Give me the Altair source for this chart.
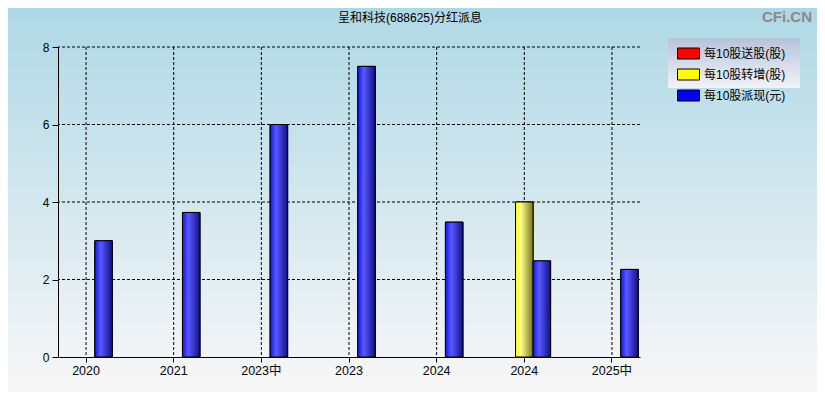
import altair as alt
import pandas as pd

categories = ["2020", "2021", "2023中", "2023", "2024", "2024", "2025中"]
series_names = ["每10股送股(股)", "每10股转增(股)", "每10股派现(元)"]
series_colors = ["#ff0000", "#ffff00", "#0000ff"]
song_gu = [0, 0, 0, 0, 0, 0, 0]
zhuan_zeng = [0, 0, 0, 0, 0, 4.0, 0]
pai_xian = [3.0, 3.73, 6.0, 7.5, 3.48, 2.48, 2.26]
y_ticks = [0, 2, 4, 6, 8]
title_text = "呈和科技(688625)分红派息"
watermark = "CFi.CN"

FONT = "Liberation Sans, Noto Sans CJK SC, sans-serif"

rows = []
for i, c in enumerate(categories):
    for s, vals in zip(series_names, [song_gu, zhuan_zeng, pai_xian]):
        rows.append({"idx": i, "cat": c, "series": s, "value": vals[i]})
df = pd.DataFrame(rows)
cat_df = pd.DataFrame({"idx": list(range(len(categories)))})
grid_df = pd.DataFrame({"v": [t for t in y_ticks if t > 0]})

label_expr = "[" + ",".join("'%s'" % c for c in categories) + "][datum.value]"

x_enc = alt.X(
    "idx:O",
    scale=alt.Scale(domain=list(range(len(categories))), paddingInner=0.4, paddingOuter=0.02),
    axis=alt.Axis(title=None, labelAngle=0, grid=False, labelExpr=label_expr,
                  domainColor="black", tickColor="black", tickSize=5, labelPadding=2,
                  labelFont=FONT, labelFontSize=12.5, labelColor="black", zindex=1),
)
y_scale = alt.Scale(domain=[0, 8], nice=False, zero=True)
y_axis = alt.Axis(title=None, values=y_ticks, grid=False, domainColor="black",
                  tickColor="black", tickSize=6, labelPadding=3, labelFont=FONT,
                  labelFontSize=12, labelColor="black", zindex=1)
xoff = alt.XOffset("series:N", scale=alt.Scale(domain=series_names, paddingInner=0, paddingOuter=0))

bg_grad = alt.LinearGradient(gradient="linear", x1=0, x2=0, y1=0, y2=1, stops=[
    alt.GradientStop(color="#acd7e5", offset=0),
    alt.GradientStop(color="#fbf8f8", offset=1)])
legend_grad = alt.LinearGradient(gradient="linear", x1=0, x2=0, y1=0, y2=1, stops=[
    alt.GradientStop(color="#b6c3dc", offset=0),
    alt.GradientStop(color="#f2f3f7", offset=1)])
blue_grad = alt.LinearGradient(gradient="linear", x1=0, x2=1, y1=0, y2=0, stops=[
    alt.GradientStop(color="#1010ff", offset=0),
    alt.GradientStop(color="#5a5aff", offset=0.33),
    alt.GradientStop(color="#3030c0", offset=0.7),
    alt.GradientStop(color="#121270", offset=1)])
yellow_grad = alt.LinearGradient(gradient="linear", x1=0, x2=1, y1=0, y2=0, stops=[
    alt.GradientStop(color="#ffff10", offset=0),
    alt.GradientStop(color="#ffff90", offset=0.3),
    alt.GradientStop(color="#77771a", offset=1)])

one = alt.Data(values=[{}])

background = alt.Chart(one).mark_rect(color=bg_grad).encode(
    x=alt.value(-60), x2=alt.value(830), y=alt.value(-50), y2=alt.value(360))

vgrid = alt.Chart(cat_df).mark_rule(color="black", strokeDash=[3, 2], strokeWidth=1).encode(x=x_enc)
hgrid = alt.Chart(grid_df).mark_rule(color="black", strokeDash=[3, 2], strokeWidth=1).encode(
    y=alt.Y("v:Q", scale=y_scale, axis=y_axis))

legend_layer = alt.Chart(df).mark_bar(stroke="black", strokeWidth=1).encode(
    x=x_enc, xOffset=xoff,
    y=alt.Y("value:Q", scale=y_scale, axis=y_axis),
    color=alt.Color("series:N", scale=alt.Scale(domain=series_names, range=series_colors),
                    legend=alt.Legend(title=None, orient="none", legendX=619, legendY=-5,
                                      symbolType="M-1,-0.5H1V0.5H-1Z", symbolSize=484,
                                      symbolStrokeColor="black", symbolStrokeWidth=1,
                                      labelFont=FONT, labelFontSize=12, labelColor="black",
                                      labelOffset=4, rowPadding=2, padding=0)),
).transform_filter("datum.value > 0")

yellow_bars = alt.Chart(df).mark_bar(color=yellow_grad, stroke="black", strokeWidth=1).encode(
    x=x_enc, xOffset=xoff, y=alt.Y("value:Q", scale=y_scale, axis=y_axis)
).transform_filter("datum.value > 0 && datum.series == '%s'" % series_names[1])

blue_bars = alt.Chart(df).mark_bar(color=blue_grad, stroke="black", strokeWidth=1).encode(
    x=x_enc, xOffset=xoff, y=alt.Y("value:Q", scale=y_scale, axis=y_axis)
).transform_filter("datum.value > 0 && datum.series == '%s'" % series_names[2])

legend_box = alt.Chart(one).mark_rect(color=legend_grad).encode(
    x=alt.value(610), x2=alt.value(742), y=alt.value(-9), y2=alt.value(41))

title_layer = alt.Chart(one).mark_text(text=title_text, font=FONT, fontSize=12,
                                       color="black", align="center",
                                       baseline="middle").encode(
    x=alt.value(352), y=alt.value(-29))

mark_text = alt.Chart(one).mark_text(text=watermark, font="Liberation Sans", fontSize=15,
                                     fontWeight="bold", color="#8a8a8a", align="right",
                                     baseline="middle").encode(
    x=alt.value(754), y=alt.value(-30))

chart = alt.layer(background, vgrid, hgrid, legend_layer, yellow_bars, blue_bars,
                  legend_box, title_layer, mark_text).properties(
    width=582, height=310,
    padding={"left": 50, "top": 39, "right": 177, "bottom": 35},
    autosize=alt.AutoSizeParams(type="none"),
).configure_view(stroke=None).configure(background="#ffffff")

chart.save("out.html", embed_options={"renderer": "svg", "actions": False})
